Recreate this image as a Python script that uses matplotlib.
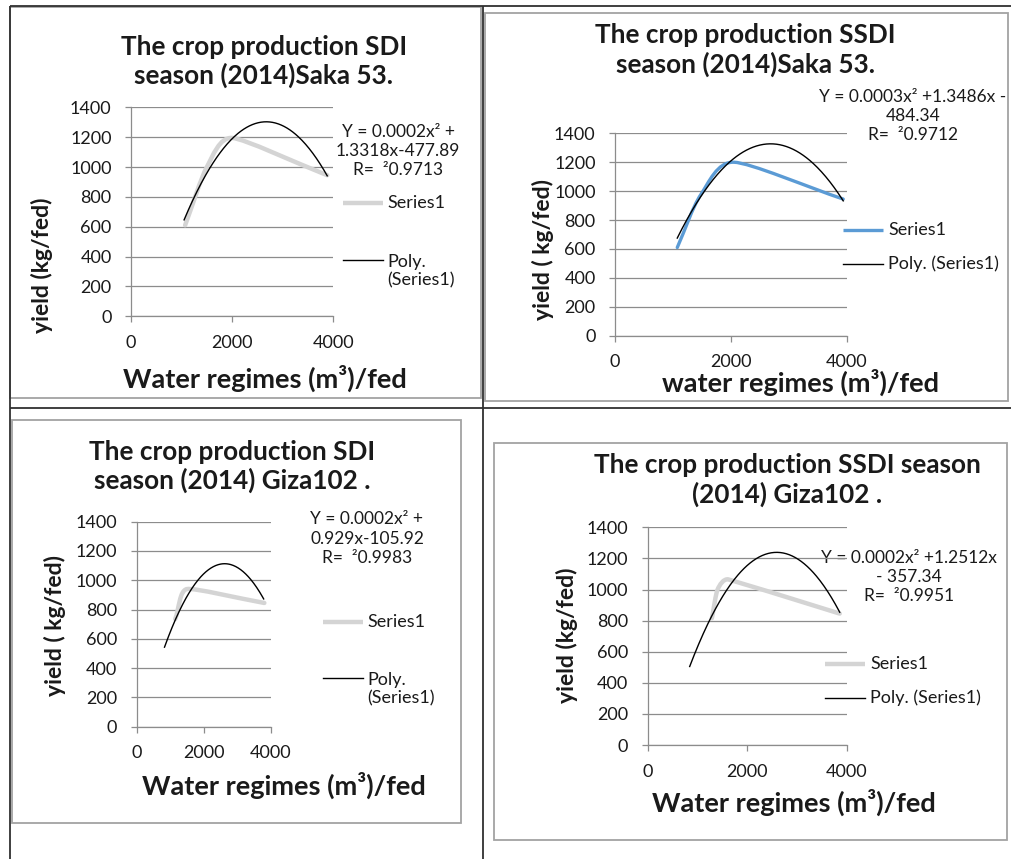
import numpy as np
import matplotlib
matplotlib.use("Agg")
import matplotlib.pyplot as plt
from matplotlib.path import Path
from matplotlib.patches import PathPatch, Rectangle

plt.rcParams["font.family"] = ["Lato", "DejaVu Sans"]

W, H = 1011, 859

# --- data ----------------------------------------------------------------
SAKA_SDI_X = [1070, 1500, 2000, 3880]
SAKA_SDI_Y = [610, 1000, 1195, 945]
SAKA_SDI_TREND = [-0.000249, 1.3318, -477.89]
SAKA_SDI_RANGE = [1050, 3880]

SAKA_SSDI_X = [1075, 1480, 2050, 3940]
SAKA_SSDI_Y = [610, 975, 1200, 945]
SAKA_SSDI_TREND = [-0.000251, 1.3486, -484.34]
SAKA_SSDI_RANGE = [1075, 3940]

GIZA_SDI_X = [1150, 1500, 3810]
GIZA_SDI_Y = [735, 940, 845]
GIZA_SDI_TREND = [-0.000177, 0.929, -105.92]
GIZA_SDI_RANGE = [830, 3790]

GIZA_SSDI_X = [1290, 1405, 1620, 3860]
GIZA_SSDI_Y = [815, 1000, 1065, 845]
GIZA_SSDI_TREND = [-0.00024, 1.2446, -374.7]
GIZA_SSDI_RANGE = [844, 3860]

Y_TICKS = [0, 200, 400, 600, 800, 1000, 1200, 1400]
X_TICKS = [0, 2000, 4000]

TITLES = [
    "The crop production SDI\nseason (2014)Saka 53.",
    "The crop production SSDI\nseason (2014)Saka 53.",
    "The crop production SDI\nseason (2014) Giza102 .",
    "The crop production SSDI season\n(2014) Giza102 .",
]
XLABELS = [
    "Water regimes (m³)/fed",
    "water regimes (m³)/fed",
    "Water regimes (m³)/fed",
    "Water regimes (m³)/fed",
]
YLABELS = ["yield (kg/fed)", "yield ( kg/fed)", "yield ( kg/fed)", "yield (kg/fed)"]
EQUATIONS = [
    "Y = 0.0002x² +\n1.3318x-477.89\nR=  ²0.9713",
    "Y = 0.0003x² +1.3486x -\n484.34\nR=  ²0.9712",
    "Y = 0.0002x² +\n0.929x-105.92\nR=  ²0.9983",
    "Y = 0.0002x² +1.2512x\n- 357.34\nR=  ²0.9951",
]
POLY_LABELS = ["Poly.\n(Series1)", "Poly. (Series1)", "Poly.\n(Series1)", "Poly. (Series1)"]

GRAY = "#d4d4d4"
BLUE = "#5b9bd5"
GRID = "#8c8c8c"
TXT = "#1a1a1a"

# layout in pixels of the 1011x859 page
PANELS = [
    dict(x=SAKA_SDI_X, y=SAKA_SDI_Y, coef=SAKA_SDI_TREND, rng=SAKA_SDI_RANGE, color=GRAY, lw=3.2,
         axes=(131, 107.3, 333.3, 316.3), border=(10, 7, 480.7, 397.7),
         title=(264, 61.5), xlab=(265, 378), ylab=(42, 265), eq=(398, 151),
         leg_x=(343, 383, 387), leg_y=(203, 260, 271.5)),
    dict(x=SAKA_SSDI_X, y=SAKA_SSDI_Y, coef=SAKA_SSDI_TREND, rng=SAKA_SSDI_RANGE, color=BLUE, lw=2.4,
         axes=(615, 133.3, 846.7, 335.7), border=(485, 13.3, 1008, 400.7),
         title=(745, 50), xlab=(801, 382), ylab=(543, 250), eq=(913, 116),
         leg_x=(843, 883, 888), leg_y=(230, 264, 264)),
    dict(x=GIZA_SDI_X, y=GIZA_SDI_Y, coef=GIZA_SDI_TREND, rng=GIZA_SDI_RANGE, color=GRAY, lw=3.2,
         axes=(136.7, 521.7, 270.7, 726.7), border=(11.7, 420, 461, 823),
         title=(232, 466.5), xlab=(284, 785), ylab=(55, 625), eq=(367, 538.7),
         leg_x=(323, 363, 367), leg_y=(622, 678, 689.5)),
    dict(x=GIZA_SSDI_X, y=GIZA_SSDI_Y, coef=GIZA_SSDI_TREND, rng=GIZA_SSDI_RANGE, color=GRAY, lw=3.2,
         axes=(647.7, 527.3, 846.7, 745), border=(494, 443.3, 1007, 840),
         title=(787, 480), xlab=(794, 802), ylab=(567, 635), eq=(909, 577),
         leg_x=(825, 865, 870), leg_y=(664, 698, 698)),
]


def smooth_path(xs, ys, sx=4000.0, sy=1400.0, k=1 / 3):
    # smoothed line: cubic Bezier pieces, tangent from neighbours,
    # handle length limited by the shorter chord next to each point
    pts = np.column_stack([np.asarray(xs) / sx, np.asarray(ys) / sy])
    n = len(pts)
    chords = [np.hypot(*(pts[i + 1] - pts[i])) for i in range(n - 1)]
    tang, hlen = [], []
    for i in range(n):
        d = pts[min(i + 1, n - 1)] - pts[max(i - 1, 0)]
        tang.append(d / np.hypot(*d))
        near = [chords[j] for j in (i - 1, i) if 0 <= j < n - 1]
        hlen.append(k * min(near))
    verts = [pts[0]]
    codes = [Path.MOVETO]
    for i in range(n - 1):
        verts += [pts[i] + tang[i] * hlen[i], pts[i + 1] - tang[i + 1] * hlen[i + 1], pts[i + 1]]
        codes += [Path.CURVE4] * 3
    verts = np.array(verts) * [sx, sy]
    return Path(verts, codes)


fig = plt.figure(figsize=(W / 100, H / 100), dpi=100)

bg = fig.add_axes([0, 0, 1, 1])
bg.set_xlim(0, W)
bg.set_ylim(H, 0)
bg.axis("off")
bg.set_zorder(0)

# table grid of the document page
for xs, ys in [((10, W), (6, 6)), ((10, 10), (6, H)), ((482.5, 482.5), (6, H)), ((10, W), (407.7, 407.7))]:
    bg.plot(xs, ys, color="#303030", lw=1.3, solid_capstyle="butt")

for i, p in enumerate(PANELS):
    l, t, r, b = p["border"]
    bg.add_patch(Rectangle((l, t), r - l, b - t, fill=False, ec="#a3a3a3", lw=1.3))

    al, at, ar, ab = p["axes"]
    ax = fig.add_axes([al / W, 1 - ab / H, (ar - al) / W, (ab - at) / H])
    ax.set_zorder(1)
    ax.patch.set_alpha(0)
    ax.set_xlim(0, 4000)
    ax.set_ylim(0, 1400)
    ax.set_xticks(X_TICKS)
    ax.set_yticks(Y_TICKS)
    ax.yaxis.grid(True, color=GRID, lw=0.9)
    ax.set_axisbelow(True)
    for side in ["top", "right"]:
        ax.spines[side].set_visible(False)
    for side in ["left", "bottom"]:
        ax.spines[side].set_color(GRID)
        ax.spines[side].set_linewidth(0.9)
    ax.tick_params(axis="y", length=4.5, width=0.9, color=GRID, pad=9.5, labelsize=13, labelcolor=TXT)
    ax.tick_params(axis="x", length=4, width=0.9, color=GRID, pad=9.5, labelsize=13, labelcolor=TXT)

    ax.add_patch(PathPatch(smooth_path(p["x"], p["y"]), fill=False, ec=p["color"],
                           lw=p["lw"], capstyle="round", joinstyle="round", zorder=2))
    tx = np.linspace(p["rng"][0], p["rng"][1], 200)
    ax.plot(tx, np.polyval(p["coef"], tx), color="black", lw=1.0, zorder=3)

    bg.text(*p["title"], TITLES[i], ha="center", va="center", fontsize=18.8,
            fontweight="bold", color=TXT, linespacing=1.2)
    bg.text(*p["xlab"], XLABELS[i], ha="center", va="center", fontsize=19.5,
            fontweight="bold", color=TXT)
    bg.text(*p["ylab"], YLABELS[i], ha="center", va="center", fontsize=16.5,
            fontweight="bold", color=TXT, rotation=90)
    bg.text(*p["eq"], EQUATIONS[i], ha="center", va="center", fontsize=12.5,
            color=TXT, linespacing=1.25, zorder=5)

    x0, x1, xt = p["leg_x"]
    y_s, y_p, y_pt = p["leg_y"]
    bg.plot([x0, x1], [y_s, y_s], color=p["color"], lw=p["lw"], solid_capstyle="butt")
    bg.text(xt, y_s, "Series1", ha="left", va="center", fontsize=13, color=TXT)
    bg.plot([x0, x1], [y_p, y_p], color="black", lw=1.0)
    bg.text(xt, y_pt, POLY_LABELS[i], ha="left", va="center", fontsize=13,
            color=TXT, linespacing=1.2)

fig.savefig("out.png", dpi=100)
